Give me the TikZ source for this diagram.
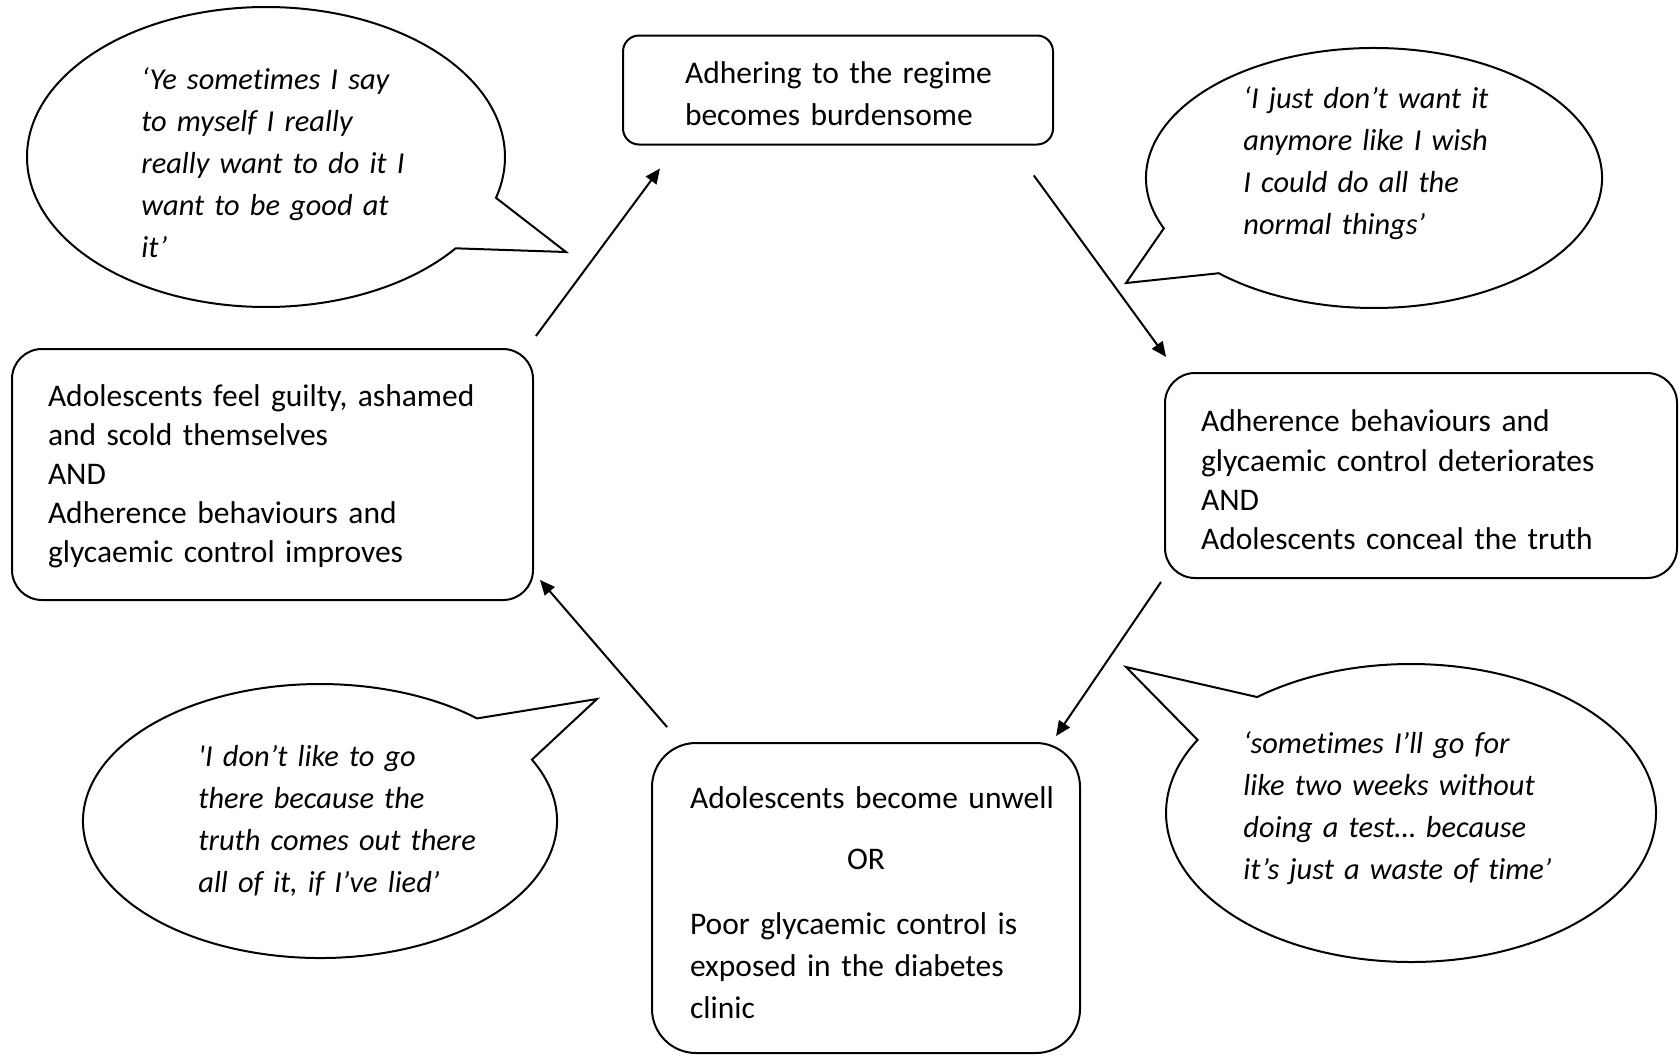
\documentclass[tikz,border=0pt]{standalone}
\usepackage{fontspec}
\setmainfont{Carlito}[Ligatures={TeX,NoCommon}]
\usetikzlibrary{arrows.meta,calc}

\begin{document}
\begin{tikzpicture}[x=0.5pt, y=-0.5pt,
    stage/.style={draw, line width=1pt, align=left, inner ysep=0pt, font=\fontsize{15.75}{19.6}\selectfont},
    quote/.style={anchor=base west, inner sep=0pt, align=left, text width=170pt, font=\fontsize{15.2}{21}\selectfont\itshape},
    bubble/.style={line width=1pt},
    flow/.style={line width=1pt, -{Triangle[length=7.5pt, width=6.5pt]}}]
    \useasboundingbox (0,0) rectangle (1679,1055);
    % stages of the cycle
    \node[stage, rounded corners=8pt, text width=153pt, inner xsep=31pt, minimum height=54.5pt, text height=14.2pt, font=\fontsize{15.75}{21}\selectfont] (regime) at (838,90) {\mbox{Adhering to the regime}\\becomes burdensome};
    \node[stage, rounded corners=15pt, text width=220pt, inner xsep=18pt, minimum height=102.5pt, text height=15.3pt] (deteriorate) at (1421,475.5) {Adherence behaviours and\\glycaemic control deteriorates\\AND\\Adolescents conceal the truth};
    \node[stage, rounded corners=22pt, text width=176pt, inner xsep=19pt, minimum height=155pt, text height=15.3pt, font=\fontsize{15.75}{21}\selectfont] (unwell) at (866,898) {\mbox{Adolescents become unwell}\\[9.5pt]\makebox[\linewidth]{OR}\\[11.5pt]Poor glycaemic control is\\exposed in the diabetes\\clinic};
    \node[stage, rounded corners=15pt, text width=224.5pt, inner xsep=18pt, minimum height=125.5pt, text height=12.6pt] (improve) at (272.5,474.5) {Adolescents feel guilty, ashamed\\and scold themselves\\AND\\Adherence behaviours and\\glycaemic control improves};
    % arrows between the stages
    \draw[flow, shorten <=7.5pt, shorten >=14.3pt] ($(improve.north east)+(-7,0)$) -- ($(regime.south west)+(55,0)$);
    \draw[flow, shorten <=18.5pt, shorten >=9.3pt] ($(regime.south east)+(-42,0)$) -- ($(deteriorate.north west)+(13,0)$);
    \draw[flow, shorten <=1.8pt, shorten >=3.6pt] ($(deteriorate.south west)+(-1,0)$) -- ($(unwell.north east)+(-29,0)$);
    \draw[flow, shorten <=9.9pt, shorten >=4.6pt] ($(unwell.north west)+(29,0)$) -- ($(improve.south east)+(0,-28)$);
    % speech bubbles
    \draw[bubble] (266,157) ++(37.5:239 and 150) arc[start angle=37.5, end angle=375.8, x radius=239, y radius=150] -- (566,252) -- cycle;
    \draw[bubble] (1374,178) ++(157.2:228 and 130) arc[start angle=157.2, end angle=492.9, x radius=228, y radius=130] -- (1126,283) -- cycle;
    \draw[bubble] (320,821) ++(-26.6:237 and 137) arc[start angle=-26.6, end angle=311.5, x radius=237, y radius=137] -- (597,699) -- cycle;
    \draw[bubble] (1411,813) ++(231.1:245 and 149) arc[start angle=231.1, end angle=569.4, x radius=245, y radius=149] -- (1126,667) -- cycle;
    % quotes
    \node[quote] (quoteGood) at (141,89.5) {‘Ye sometimes I say\\to myself I really\\really want to do it I\\want to be good at\\it’};
    \node[quote] (quoteNormal) at (1243,108.5) {‘I just don’t want it\\anymore like I wish\\I could do all the\\normal things’};
    \node[quote] (quoteClinic) at (198,766) {\textquotesingle I don’t like to go\\there because the\\truth comes out there\\all of it, if I’ve lied’};
    \node[quote] (quoteTest) at (1243,753) {‘sometimes I’ll go for\\like two weeks without\\doing a test… because\\it’s just a waste of time’};
\end{tikzpicture}
\end{document}
